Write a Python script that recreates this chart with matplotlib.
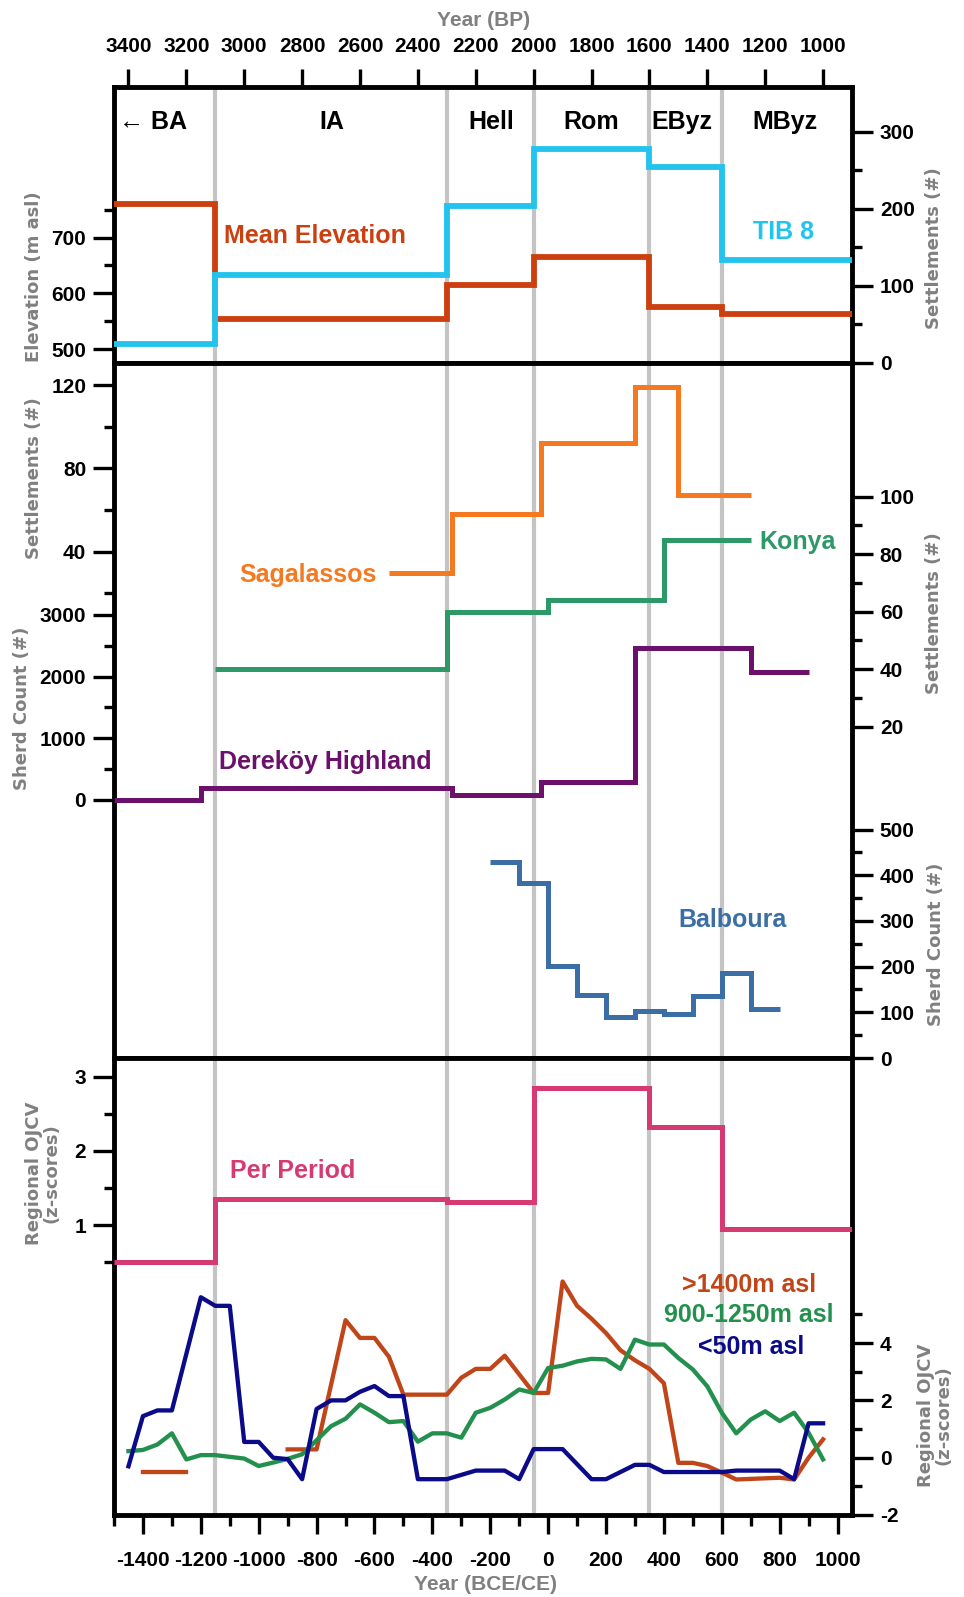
import numpy as np
import matplotlib
matplotlib.use("Agg")
import matplotlib.pyplot as plt

plt.rcParams["font.family"] = ["Liberation Sans", "DejaVu Sans"]
plt.rcParams["font.weight"] = "bold"
plt.rcParams["axes.unicode_minus"] = False

# period boundaries (years BCE/CE) and names
periods = [-1500, -1150, -350, -50, 350, 600, 1050]
period_names = ["\u2190 BA", "IA", "Hell", "Rom", "EByz", "MByz"]
period_label_x = [-1366, -749, -198, 150, 463, 817]

# top panel
mean_elev = [760, 554, 615, 665, 575, 563]
tib8 = [25, 114, 204, 277, 254, 134]

# middle panel
sag_edges = [-550, -333, -25, 300, 450, 700]
sag_vals = [30, 58, 92, 119, 67]
konya_edges = [-1150, -350, 0, 400, 700]
konya_vals = [40, 60, 64, 85]
derekoy_edges = [-1500, -1200, -333, -25, 300, 700, 900]
derekoy_vals = [0, 190, 80, 290, 2460, 2080]
balboura_edges = [-200, -100, 0, 100, 200, 300, 400, 500, 600, 700, 800]
balboura_vals = [430, 383, 201, 138, 90, 102, 96, 136, 186, 107]

# bottom panel
per_period = [0.5, 1.35, 1.31, 2.84, 2.32, 0.95]

low_years = [-1450, -1400, -1350, -1300, -1200, -1150, -1100, -1050, -1000, -950,
             -900, -850, -800, -750, -700, -650, -600, -550, -500, -450, -350,
             -300, -250, -150, -100, -50, 50, 150, 200, 300, 350, 400, 600, 650,
             800, 850, 900, 950]
low_vals = [-0.3, 1.45, 1.65, 1.65, 5.6, 5.3, 5.3, 0.55, 0.55, 0.0,
            -0.05, -0.75, 1.7, 2.0, 2.0, 2.3, 2.5, 2.15, 2.15, -0.75, -0.75,
            -0.6, -0.45, -0.45, -0.75, 0.3, 0.3, -0.75, -0.75, -0.25, -0.25, -0.5, -0.5, -0.45,
            -0.45, -0.75, 1.2, 1.2]

mid_years = [-1450, -1400, -1350, -1300, -1250, -1200, -1150, -1100, -1050, -1000,
             -950, -900, -850, -750, -700, -650, -600, -550, -500, -450, -400,
             -350, -300, -250, -200, -150, -100, -50, 0, 50, 100, 150, 200, 250,
             300, 350, 400, 450, 500, 550, 600, 650, 700, 750, 800, 850, 900, 950]
mid_vals = [0.23, 0.27, 0.46, 0.85, -0.06, 0.09, 0.09, 0.03, -0.03, -0.29,
            -0.17, -0.04, 0.12, 1.1, 1.36, 1.86, 1.57, 1.24, 1.28, 0.56, 0.85,
            0.85, 0.7, 1.57, 1.74, 2.03, 2.38, 2.26, 3.13, 3.21, 3.36, 3.45, 3.43, 3.1,
            4.12, 3.95, 3.95, 3.48, 3.08, 2.49, 1.57, 0.85, 1.33, 1.62, 1.28, 1.57, 0.87, -0.06]

high_years_a = [-1400, -1250]
high_vals_a = [-0.5, -0.5]
high_years = [-900, -800, -700, -650, -600, -550, -500, -350, -300, -250, -200,
              -150, -50, 0, 50, 100, 150, 200, 250, 300, 350, 400, 450, 500,
              550, 600, 650, 800, 850, 900, 950]
high_vals = [0.29, 0.29, 4.8, 4.18, 4.18, 3.52, 2.2, 2.2, 2.79, 3.1, 3.1,
             3.56, 2.26, 2.26, 6.15, 5.3, 4.85, 4.35, 3.75, 3.4, 3.1, 2.6, -0.18, -0.18,
             -0.29, -0.52, -0.76, -0.7, -0.76, 0.0, 0.64]

bp_ticks = [3400, 3200, 3000, 2800, 2600, 2400, 2200, 2000, 1800, 1600, 1400, 1200, 1000]

GRAY = "#808080"
W, H = 964, 1597

fig = plt.figure(figsize=(W / 100, H / 100), dpi=100)


def rect(top, bottom):
    return [114 / W, 1 - bottom / H, (852 - 114) / W, (bottom - top) / H]


def frame(ax):
    ax.set_xlim(-1500, 1050)
    for s in ax.spines.values():
        s.set_linewidth(3.5)
    for b in periods[1:-1]:
        ax.axvline(b, color="#c4c4c4", lw=3, zorder=0)


def yticks(ax, major, minor, side, labelsize=15):
    ax.set_yticks(major)
    ax.set_yticks(minor, minor=True)
    ax.yaxis.set_ticks_position(side)
    ax.tick_params(axis="y", which="major", length=15, width=2.4, labelsize=labelsize, pad=5)
    ax.tick_params(axis="y", which="minor", length=7, width=2.4)


def twin(ax):
    t = ax.twinx()
    for s in t.spines.values():
        s.set_visible(False)
    return t


def ylab(x, y, text, **kw):
    fig.text(x / W, 1 - y / H, text, rotation=90, ha="center", va="center",
             color=GRAY, fontsize=13, family="DejaVu Sans", fontweight="bold", **kw)


# ---------------- top panel ----------------
ax1 = fig.add_axes(rect(87, 363))
frame(ax1)
ax1.set_ylim(475, 970)
ax1.xaxis.tick_top()
ax1.set_xticks([1950 - b for b in bp_ticks], labels=[str(b) for b in bp_ticks])
ax1.tick_params(axis="x", length=13, width=2.4, labelsize=15, pad=9)
yticks(ax1, [500, 600, 700], [550, 650, 750], "left")
ax1.stairs(mean_elev, periods, baseline=None, color="#cc4010", lw=4.2, zorder=3)
ax1r = twin(ax1)
ax1r.set_ylim(0, 358)
yticks(ax1r, [0, 100, 200, 300], [50, 150, 250], "right")
ax1r.stairs(tib8, periods, baseline=None, color="#22c4ee", lw=4.2, zorder=3)
for name, x in zip(period_names, period_label_x):
    ax1.text(x, 0.873, name, transform=ax1.get_xaxis_transform(), ha="center",
             va="center", fontsize=18)
ax1.text(-1120, 702, "Mean Elevation", color="#cc4010", fontsize=18, va="center")
ax1r.text(815, 170, "TIB 8", color="#22c4ee", fontsize=18, ha="center", va="center")
fig.text(484 / W, 1 - 21 / H, "Year (BP)", ha="center", va="center", color=GRAY, fontsize=15)

# ---------------- middle panel ----------------
ax2 = fig.add_axes(rect(363, 1058))
frame(ax2)
ax2.set_ylim(0, 1)
ax2.set_xticks([])
ax2.set_yticks([])

a_sag = twin(ax2)
a_sag.set_ylim(-203, 130.6)
yticks(a_sag, [40, 80, 120], [20, 60, 100], "left")
a_sag.stairs(sag_vals, sag_edges, baseline=None, color="#f47920", lw=3.6)

a_der = twin(ax2)
a_der.set_ylim(-4183, 7083)
yticks(a_der, [0, 1000, 2000, 3000], [500, 1500, 2500], "left")
a_der.stairs(derekoy_vals, derekoy_edges, baseline=None, color="#6b106b", lw=3.6)

a_kon = twin(ax2)
a_kon.set_ylim(-95.2, 146.5)
yticks(a_kon, [20, 40, 60, 80, 100], [30, 50, 70, 90], "right")
a_kon.stairs(konya_vals, konya_edges, baseline=None, color="#2e9968", lw=3.6)

a_bal = twin(ax2)
a_bal.set_ylim(0, 1521)
yticks(a_bal, [0, 100, 200, 300, 400, 500], [50, 150, 250, 350, 450], "right")
a_bal.stairs(balboura_vals, balboura_edges, baseline=None, color="#3a6ea5", lw=3.6)

tr2 = ax2.get_xaxis_transform()
ax2.text(-591, 0.695, "Sagalassos", transform=tr2, color="#f47920", fontsize=18, ha="right", va="center")
ax2.text(731, 0.742, "Konya", transform=tr2, color="#2e9968", fontsize=18, ha="left", va="center")
ax2.text(-1138, 0.426, "Dereköy Highland", transform=tr2, color="#6b106b", fontsize=18, ha="left", va="center")
ax2.text(449, 0.199, "Balboura", transform=tr2, color="#3a6ea5", fontsize=18, ha="left", va="center")

# ---------------- bottom panel ----------------
ax3 = fig.add_axes(rect(1058, 1515))
frame(ax3)
ax3.set_ylim(-2.907, 3.25)
yticks(ax3, [1, 2, 3], [0.5, 1.5, 2.5], "left")
ax3.stairs(per_period, periods, baseline=None, color="#d63a73", lw=3.6, zorder=3)
ax3.set_xticks(np.arange(-1400, 1001, 200))
ax3.set_xticks(np.arange(-1500, 1000, 200), minor=True)
ax3.tick_params(axis="x", which="major", length=14, width=2.4, labelsize=15, pad=12)
ax3.tick_params(axis="x", which="minor", length=8, width=2.4)

ax3r = twin(ax3)
ax3r.set_ylim(-2, 13.95)
yticks(ax3r, [-2, 0, 2, 4], [-1, 1, 3, 5], "right")
ax3r.plot(high_years_a, high_vals_a, color="#c0461a", lw=3.1)
ax3r.plot(high_years, high_vals, color="#c0461a", lw=3.1)
ax3r.plot(mid_years, mid_vals, color="#23904e", lw=3.1)
ax3r.plot(low_years, low_vals, color="#0b0b8a", lw=3.1)

tr3 = ax3.get_xaxis_transform()
ax3.text(-1100, 0.753, "Per Period", transform=tr3, color="#d63a73", fontsize=18, va="center")
ax3.text(693, 0.503, ">1400m asl", transform=tr3, color="#c0461a", fontsize=18, ha="center", va="center")
ax3.text(693, 0.438, "900-1250m asl", transform=tr3, color="#23904e", fontsize=18, ha="center", va="center")
ax3.text(700, 0.368, "<50m asl", transform=tr3, color="#0b0b8a", fontsize=18, ha="center", va="center")
fig.text(485 / W, 1 - 1584 / H, "Year (BCE/CE)", ha="center", va="center", color=GRAY, fontsize=15)

# axis titles
ylab(34, 277, "Elevation (m asl)")
ylab(934, 248, "Settlements (#)")
ylab(34, 478, "Settlements (#)")
ylab(22, 708, "Sherd Count (#)")
ylab(934, 613, "Settlements (#)")
ylab(936, 944, "Sherd Count (#)")
ylab(43, 1173, "Regional OJCV\n(z-scores)", linespacing=0.95)
ylab(935, 1415, "Regional OJCV\n(z-scores)", linespacing=0.95)

fig.savefig("out.png", dpi=100)
